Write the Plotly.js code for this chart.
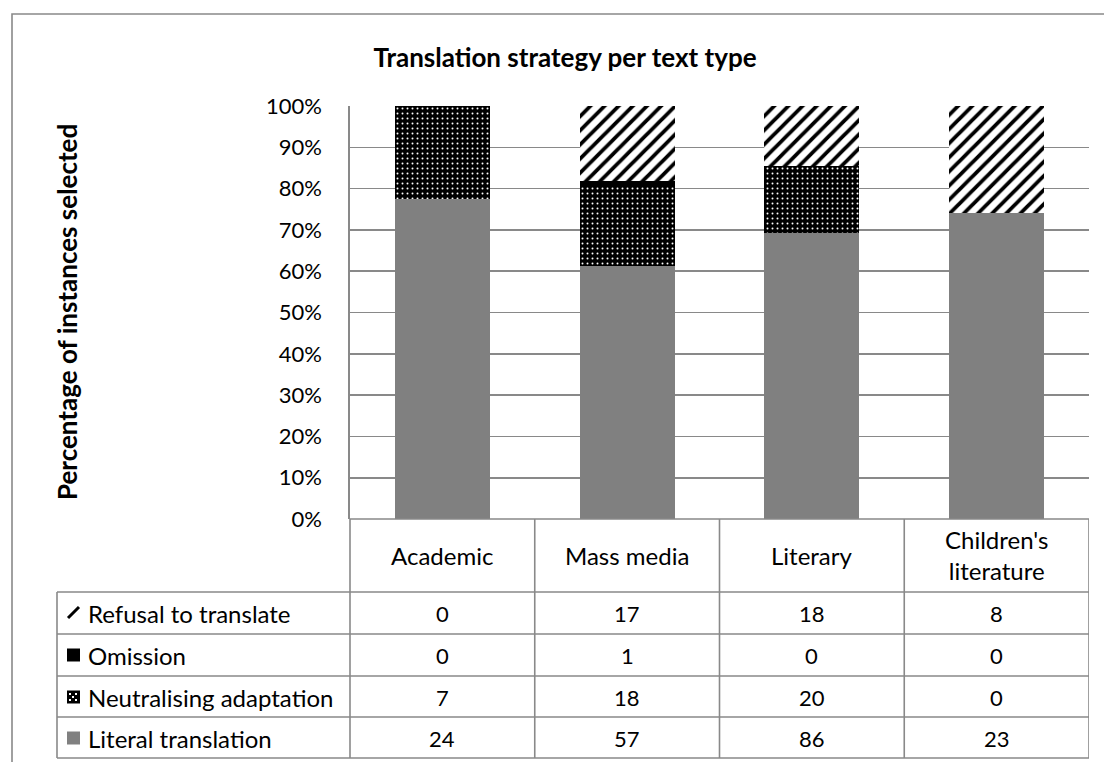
<!DOCTYPE html>
<html><head><meta charset="utf-8">
<script src="https://cdn.plot.ly/plotly-3.0.1.min.js"></script>
<style>html,body{margin:0;padding:0;background:#fff;} #chart{width:1104px;height:762px;}</style>
</head><body><div id="chart"></div>
<script>
// ---- data ----
const categories = ["Academic", "Mass media", "Literary", "Children's literature"];
const categoryLabels = ["Academic", "Mass media", "Literary", "Children's<br>literature"];
const literal = [24, 57, 86, 23];
const neutralising = [7, 18, 20, 0];
const omission = [0, 1, 0, 0];
const refusal = [0, 17, 18, 8];
const tableRowNames = ["Refusal to translate", "Omission", "Neutralising adaptation", "Literal translation"];
const tableRowValues = [refusal, omission, neutralising, literal];
const yTickVals = [0, 0.1, 0.2, 0.3, 0.4, 0.5, 0.6, 0.7, 0.8, 0.9, 1];
const yTickText = ["0%", "10%", "20%", "30%", "40%", "50%", "60%", "70%", "80%", "90%", "100%"];

// ---- geometry (pixels) ----
const W = 1104, H = 762;
const L = 350, R = 1089, T = 106, B = 519;
const px = x => (x - L) / (R - L);
const py = y => (B - y) / (B - T);
const FONT = "Lato, 'DejaVu Sans', sans-serif";
const GRID = "#898989";

const traces = [
  {name: "Literal translation", y: literal, marker: {color: "#808080"}},
  {name: "Neutralising adaptation", y: neutralising,
   marker: {color: "#000000", pattern: {shape: ".", fgcolor: "#ffffff", bgcolor: "#000000", size: 5, solidity: 0.12, fillmode: "replace"}}},
  {name: "Omission", y: omission, marker: {color: "#000000"}},
  {name: "Refusal to translate", y: refusal,
   marker: {color: "#ffffff", pattern: {shape: "/", fgcolor: "#000000", bgcolor: "#ffffff", size: 10, solidity: 0.38, fillmode: "replace"}}}
].map(t => Object.assign({type: "bar", x: categories, hoverinfo: "skip"}, t, {marker: Object.assign({line: {width: 0}}, t.marker)}));

const shapes = [];
const line = (x0, y0, x1, y1, xref) => shapes.push({type: "line", xref: xref || "paper", yref: "paper",
  x0: x0, y0: y0, x1: x1, y1: y1, line: {color: GRID, width: 1.6}, layer: "above"});
// outer border
shapes.push({type: "rect", xref: "paper", yref: "paper", x0: px(12), x1: px(1120), y0: py(14), y1: py(780),
  line: {color: GRID, width: 1.6}, fillcolor: "rgba(0,0,0,0)", layer: "below"});
// table horizontals
const rowLines = [592, 634, 676, 717, 758];
rowLines.forEach(y => line(px(57), py(y), 1, py(y)));
line(0, py(B), 1, py(B));
// table verticals
line(px(57), py(592), px(57), py(758));
line(0, py(B), 0, py(758));
[0.5, 1.5, 2.5, 3.5].forEach(x => line(x, py(B), x, py(758), "x"));

// legend keys
const keyX0 = 67, keyX1 = 80;
const rowCenters = [613, 655, 697, 738];
// refusal: slash
shapes.push({type: "line", xref: "paper", yref: "paper", x0: px(68), y0: py(618), x1: px(79), y1: py(607),
  line: {color: "#000", width: 3}});
// omission: black square
shapes.push({type: "rect", xref: "paper", yref: "paper", x0: px(keyX0), x1: px(keyX1), y0: py(rowCenters[1] - 6.5), y1: py(rowCenters[1] + 6.5),
  line: {width: 0}, fillcolor: "#000"});
// neutralising: black square with white dots
shapes.push({type: "rect", xref: "paper", yref: "paper", x0: px(keyX0), x1: px(keyX1), y0: py(rowCenters[2] - 6.5), y1: py(rowCenters[2] + 6.5),
  line: {width: 0}, fillcolor: "#000"});
[[70, 694], [76, 694], [73, 697], [70, 700], [76, 700]].forEach(([cx, cy]) =>
  shapes.push({type: "rect", xref: "paper", yref: "paper", x0: px(cx - 1), x1: px(cx + 1), y0: py(cy - 1), y1: py(cy + 1),
    line: {width: 0}, fillcolor: "#fff"}));
// literal: gray square
shapes.push({type: "rect", xref: "paper", yref: "paper", x0: px(keyX0), x1: px(keyX1), y0: py(rowCenters[3] - 6.5), y1: py(rowCenters[3] + 6.5),
  line: {width: 0}, fillcolor: "#808080"});

const annotations = [];
const wordFont = {family: FONT, size: 24, color: "#000"};
const numFont = {family: FONT, size: 22, color: "#000"};
categories.forEach((c, i) => {
  annotations.push({xref: "x", yref: "paper", x: c, y: py(555), text: categoryLabels[i], showarrow: false,
    font: wordFont, xanchor: "center", yanchor: "middle"});
});
tableRowNames.forEach((n, r) => {
  annotations.push({xref: "paper", yref: "paper", x: px(86), y: py(rowCenters[r]), text: n, showarrow: false,
    font: wordFont, xanchor: "left", yanchor: "middle"});
  categories.forEach((c, i) => {
    annotations.push({xref: "x", yref: "paper", x: c, y: py(rowCenters[r]), text: String(tableRowValues[r][i]), showarrow: false,
      font: numFont, xanchor: "center", yanchor: "middle"});
  });
});
// y axis title
annotations.push({xref: "paper", yref: "paper", x: px(67), y: py(312), text: "<b>Percentage of instances selected</b>",
  textangle: -90, showarrow: false, font: {family: FONT, size: 26, color: "#000"}, xanchor: "center", yanchor: "middle"});

const layout = {
  width: W, height: H,
  margin: {l: L, r: W - R, t: T, b: H - B, pad: 0},
  paper_bgcolor: "#fff", plot_bgcolor: "#fff",
  barmode: "stack", barnorm: "fraction", bargap: 0.485,
  showlegend: false,
  title: {text: "<b>Translation strategy per text type</b>", xref: "container", yref: "container",
    x: 565 / W, y: 1 - 58 / H, xanchor: "center", yanchor: "middle",
    font: {family: FONT, size: 26, color: "#000"}},
  xaxis: {range: [-0.5, 3.5], showticklabels: false, showgrid: false, zeroline: false, showline: false, ticks: "", fixedrange: true},
  yaxis: {range: [0, 1], tickvals: yTickVals, ticktext: yTickText, showgrid: true, gridcolor: GRID, gridwidth: 1.6,
    zeroline: false, showline: true, linecolor: GRID, linewidth: 1.6, ticks: "", ticklabelstandoff: 22,
    tickfont: {family: FONT, size: 22, color: "#000"}, fixedrange: true},
  shapes: shapes, annotations: annotations
};

Plotly.newPlot("chart", traces, layout, {displayModeBar: false, staticPlot: true});
</script>
</body></html>
